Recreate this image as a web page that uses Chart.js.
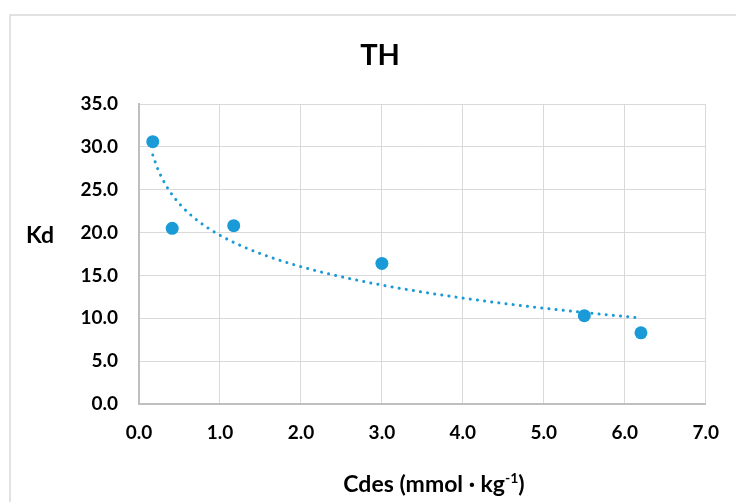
<!DOCTYPE html>
<html><head><meta charset="utf-8">
<script src="https://cdn.jsdelivr.net/npm/chart.js@4/dist/chart.umd.min.js"></script>
<style>html,body{margin:0;padding:0;background:#fff;overflow:hidden;}</style>
</head><body><canvas id="c" width="736" height="502" style="width:736px;height:502px;display:block"></canvas>
<script>
// ---- data ----
const cdes = [0.17, 0.41, 1.17, 3.0, 5.5, 6.2];
const kd = [30.6, 20.5, 20.8, 16.4, 10.3, 8.3];
const chartTitle = 'TH';
const yLabel = 'Kd';
const xLabelMain = 'Cdes (mmol · kg';
const xLabelSup = '-1';
const xLabelEnd = ')';

// logarithmic trendline (least-squares fit of kd on ln(cdes)), like the spreadsheet trendline
function logFit(xs, ys) {
  const lx = xs.map(Math.log);
  const n = xs.length;
  const mx = lx.reduce((a, b) => a + b, 0) / n;
  const my = ys.reduce((a, b) => a + b, 0) / n;
  let sxy = 0, sxx = 0;
  for (let i = 0; i < n; i++) { sxy += (lx[i] - mx) * (ys[i] - my); sxx += (lx[i] - mx) ** 2; }
  const b = sxy / sxx, a = my - b * mx;
  return x => a + b * Math.log(x);
}
const fit = logFit(cdes, kd);
const xMin = Math.min(...cdes), xMax = Math.max(...cdes);
const trend = [];
const N = 120;
for (let i = 0; i <= N; i++) {
  const x = xMin + (xMax - xMin) * i / N;
  trend.push({x: x, y: fit(x)});
}

const BLUE = '#1a9bd7';
const FONT = 'Lato';

const decor = {
  id: 'decor',
  beforeDraw(chart) {
    const ctx = chart.ctx;
    ctx.save();
    ctx.fillStyle = '#fff';
    ctx.fillRect(0, 0, chart.width, chart.height);
    ctx.strokeStyle = '#d9d9d9';
    ctx.lineWidth = 1.5;
    ctx.strokeRect(10, 15, 900, 700);
    ctx.restore();
  },
  afterDraw(chart) {
    const ctx = chart.ctx;
    ctx.save();
    ctx.fillStyle = '#000';
    ctx.textBaseline = 'middle';
    ctx.textAlign = 'center';
    ctx.font = 'bold 23px ' + FONT;
    ctx.fillText(yLabel, 40, 236);
    // x axis title with superscript
    const mainFont = 'bold 23px ' + FONT;
    const supFont = 'bold 14px ' + FONT;
    ctx.font = mainFont;
    const w1 = ctx.measureText(xLabelMain).width;
    const w3 = ctx.measureText(xLabelEnd).width;
    ctx.font = supFont;
    const w2 = ctx.measureText(xLabelSup).width;
    const total = w1 + w2 + w3;
    let x = 434 - total / 2;
    const y = 485;
    ctx.textAlign = 'left';
    ctx.font = mainFont;
    ctx.fillText(xLabelMain, x, y);
    x += w1;
    ctx.font = supFont;
    ctx.fillText(xLabelSup, x, y - 7);
    x += w2;
    ctx.font = mainFont;
    ctx.fillText(xLabelEnd, x, y);
    ctx.restore();
  }
};

new Chart(document.getElementById('c'), {
  type: 'scatter',
  data: {
    datasets: [
      {
        label: 'Kd',
        data: cdes.map((x, i) => ({x: x, y: kd[i]})),
        backgroundColor: BLUE,
        borderColor: BLUE,
        pointRadius: 6.5,
        pointBorderWidth: 0,
        order: 0
      },
      {
        label: 'trend',
        type: 'line',
        data: trend,
        borderColor: BLUE,
        borderWidth: 3,
        borderDash: [0.1, 7.1],
        borderCapStyle: 'round',
        pointRadius: 0,
        fill: false,
        tension: 0,
        order: 1
      }
    ]
  },
  options: {
    responsive: false,
    devicePixelRatio: 1,
    animation: false,
    layout: {padding: {left: 54, right: 30, top: 0, bottom: 0}},
    plugins: {
      legend: {display: false},
      tooltip: {enabled: false},
      title: {
        display: true,
        text: chartTitle,
        color: '#000',
        font: {family: FONT, size: 29, weight: 'bold', lineHeight: 1.2},
        padding: {top: 38, bottom: 31.2}
      }
    },
    scales: {
      x: {
        type: 'linear',
        min: 0, max: 7,
        afterFit(s) { s.height = 98; },
        ticks: {
          stepSize: 1,
          color: '#000',
          padding: 17,
          font: {family: FONT, size: 19, weight: 'bold'},
          callback: v => Number(v).toFixed(1)
        },
        grid: {color: '#d9d9d9', lineWidth: 1, drawTicks: false},
        border: {display: true, color: '#bfbfbf', width: 2}
      },
      y: {
        type: 'linear',
        min: 0, max: 35,
        afterFit(s) { s.width = 85; },
        ticks: {
          stepSize: 5,
          color: '#000',
          padding: 21,
          font: {family: FONT, size: 19, weight: 'bold'},
          callback: v => Number(v).toFixed(1)
        },
        grid: {color: '#d9d9d9', lineWidth: 1, drawTicks: false},
        border: {display: true, color: '#bfbfbf', width: 2}
      }
    }
  },
  plugins: [decor]
});
</script>
</body></html>
